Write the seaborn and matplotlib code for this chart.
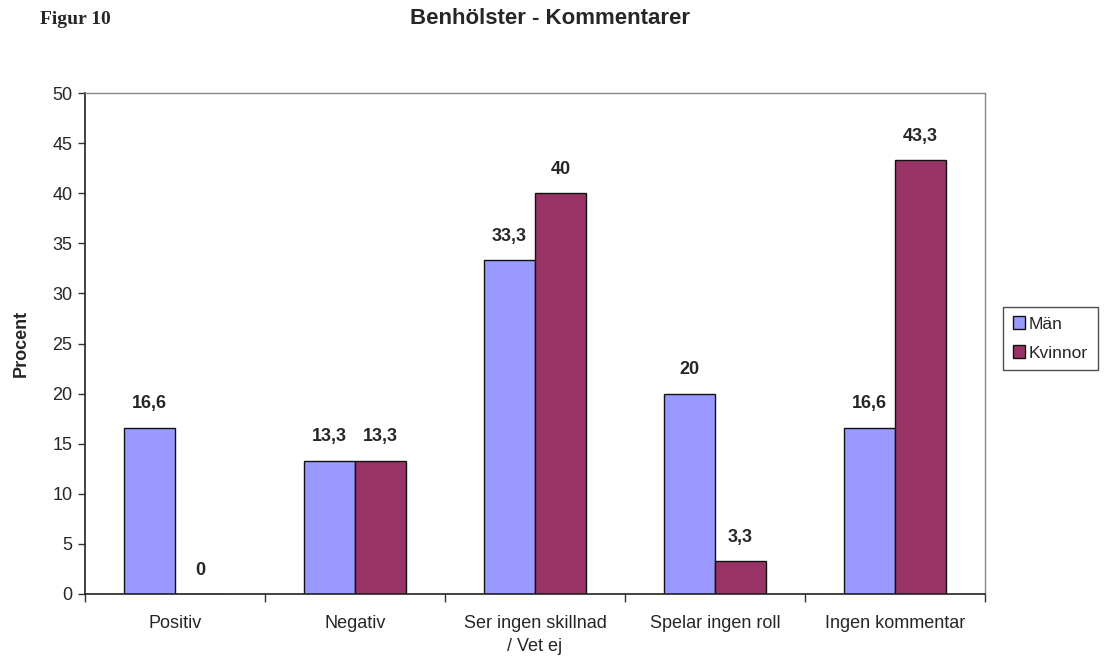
import matplotlib
matplotlib.use("Agg")
import matplotlib.pyplot as plt
import seaborn as sns
import pandas as pd
import numpy as np

categories = ["Positiv", "Negativ", "Ser ingen skillnad\n/ Vet ej", "Spelar ingen roll", "Ingen kommentar"]
man = [16.6, 13.3, 33.3, 20, 16.6]
kvinnor = [0, 13.3, 40, 3.3, 43.3]
series = ["Män", "Kvinnor"]
colors = ["#9999FF", "#993366"]

df = pd.DataFrame({
    "Kategori": categories * 2,
    "Procent": man + kvinnor,
    "Kön": [series[0]] * len(categories) + [series[1]] * len(categories),
})

sns.set_style("white")
plt.rcParams['font.family'] = ['Liberation Sans', 'DejaVu Sans']

fig = plt.figure(figsize=(11.09, 6.66), dpi=100)
ax = fig.add_axes([85/1109, 1 - 594/666, 900/1109, 501/666])

sns.barplot(data=df, x="Kategori", y="Procent", hue="Kön", palette=colors, saturation=1,
            width=0.567, gap=0, edgecolor="#111111", linewidth=1.0, ax=ax,
            legend=True, errorbar=None)

ax.set_ylim(0, 50)
ax.set_xlim(-0.5, len(categories) - 0.5)
ax.set_yticks(np.arange(0, 51, 5))
ax.set_xticks(np.arange(len(categories)))
ax.set_xticklabels(categories, fontsize=13, linespacing=1.5)
ax.tick_params(axis='y', labelsize=13, length=5, width=1, direction='out', left=True, color="#333333", pad=4)
ax.tick_params(axis='x', length=0, pad=15)
ax.set_xticks(np.arange(-0.5, len(categories)), minor=True)
ax.tick_params(axis='x', which='minor', length=6, width=1, direction='out', bottom=True, color="#333333")
ax.set_xlabel("")
ax.set_ylabel("Procent", fontsize=13, fontweight='bold', labelpad=16)

for s in ["top", "right"]:
    ax.spines[s].set_color("#888888")
    ax.spines[s].set_linewidth(1)
for s in ["left", "bottom"]:
    ax.spines[s].set_color("#222222")
    ax.spines[s].set_linewidth(1.2)

for cont in ax.containers:
    labels = [("%g" % v).replace(".", ",") for v in cont.datavalues]
    ax.bar_label(cont, labels=labels, padding=11, fontsize=13, fontweight='bold')

leg = ax.legend(loc="center left", bbox_to_anchor=(1.02, 0.51), frameon=True,
                fancybox=False, edgecolor="#222222", fontsize=12.5, borderaxespad=0,
                handlelength=0.7, handleheight=0.7, handletextpad=0.25,
                borderpad=0.55, labelspacing=0.8)
leg.get_frame().set_linewidth(1)

fig.text(40/1109, 1 - 20/666, "Figur 10", family=["Liberation Serif", "DejaVu Serif"],
         fontweight='bold', fontsize=14, va='center', ha='left')
fig.text(550/1109, 1 - 19/666, "Benhölster - Kommentarer", fontweight='bold',
         fontsize=16, va='center', ha='center')

fig.savefig("out.png", dpi=100)
